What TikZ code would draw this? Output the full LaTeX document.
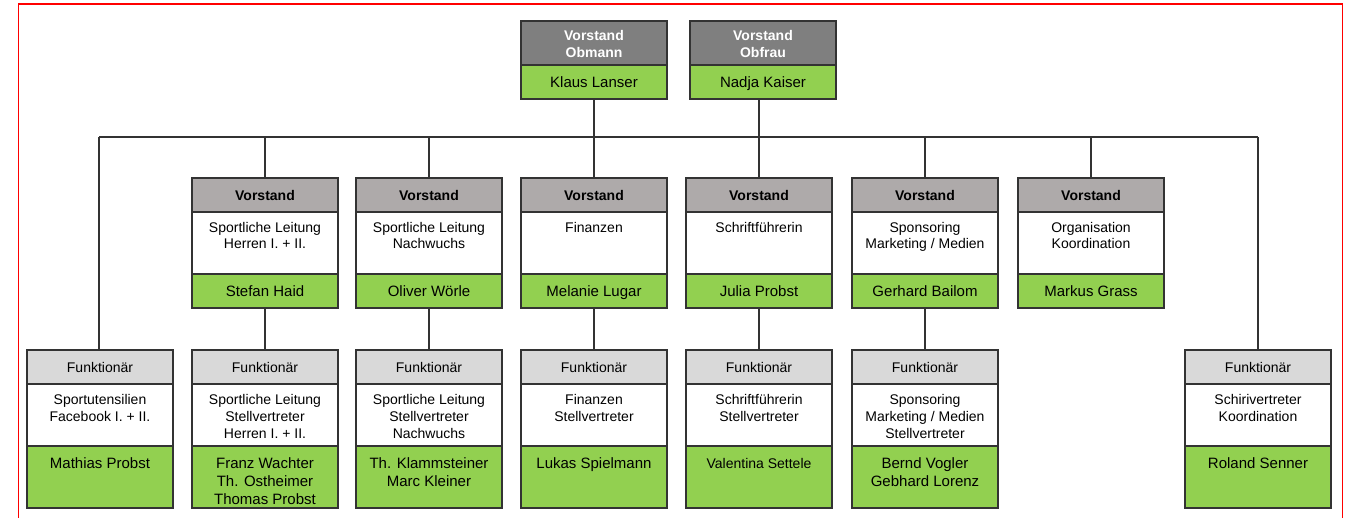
\documentclass[tikz,border=0pt]{standalone}
\usepackage{fontspec}
\setmainfont{Liberation Sans}
\definecolor{hdA}{HTML}{7F7F7F}
\definecolor{hdB}{HTML}{AEAAAA}
\definecolor{hdC}{HTML}{D9D9D9}
\definecolor{grn}{HTML}{92D050}
\definecolor{lineC}{HTML}{333333}
\definecolor{frameC}{HTML}{FF0000}
\newcommand\MidCol[4]{%
  \node[hB] (#1H) at (#2,178) {Vorstand};
  \node[wB] (#1W) at (#2,212) {};
  \node[twht] (#1Wt) at (#2,220.3) {\strut #3};
  \node[gA] (#1G) at (#2,274) {#4};
}
\newcommand\BotCol[5][\fontsize{15}{18}\selectfont]{%
  \node[hC] (#2H) at (#3,350) {Funktionär};
  \node[wB] (#2W) at (#3,384) {};
  \node[twht] (#2Wt) at (#3,392.8) {\strut #4};
  \node[gC] (#2G) at (#3,446) {};
  \node[tgrn, font=#1] (#2Gt) at (#3,455.4) {\strut #5};
}
\begin{document}
\begin{tikzpicture}[x=1pt,y=-1pt,
  sec/.style={draw=lineC, line width=1.2pt, minimum width=146pt, inner sep=0pt, outer sep=0pt, anchor=north},
  hA/.style={sec, fill=hdA, minimum height=44pt},
  gA/.style={sec, fill=grn, minimum height=34pt, font=\fontsize{15}{18}\selectfont, text height=12pt, text depth=1.2pt},
  hB/.style={sec, fill=hdB, minimum height=34pt, font=\bfseries\fontsize{14}{17}\selectfont, text height=12pt, text depth=2pt},
  wB/.style={sec, fill=white, minimum height=62pt},
  hC/.style={sec, fill=hdC, minimum height=34pt, font=\fontsize{14}{17}\selectfont, text height=12pt, text depth=2pt},
  gC/.style={sec, fill=grn, minimum height=62pt},
  ttop/.style={anchor=north, inner sep=0pt, align=center, text=white, font=\bfseries\fontsize{14}{17}\selectfont},
  twht/.style={anchor=north, inner sep=0pt, align=center, font=\fontsize{14}{16.7}\selectfont},
  tgrn/.style={anchor=north, inner sep=0pt, align=center},
  conn/.style={draw=lineC, line width=1.4pt},
  frame/.style={draw=frameC, line width=1.5pt}
]
\useasboundingbox (0,0) rectangle (1364,517);
\draw[frame] (18.3,520) -- (18.3,4) -- (1342.3,4) -- (1342.3,520);

% top
\node[hA] (obH) at (594,21) {};
\node[ttop] (obHt) at (594,28.1) {\strut Vorstand\\Obmann};
\node[gA] (obG) at (594,65) {Klaus Lanser};
\node[hA] (ofH) at (763,21) {};
\node[ttop] (ofHt) at (763,28.1) {\strut Vorstand\\Obfrau};
\node[gA] (ofG) at (763,65) {Nadja Kaiser};

% middle row
\MidCol{hh}{265}{Sportliche Leitung\\Herren I. + II.}{Stefan Haid}
\MidCol{nw}{429}{Sportliche Leitung\\Nachwuchs}{Oliver Wörle}
\MidCol{fi}{594}{Finanzen}{Melanie Lugar}
\MidCol{sf}{759}{Schriftführerin}{Julia Probst}
\MidCol{sp}{925}{Sponsoring\\Marketing / Medien}{Gerhard Bailom}
\MidCol{og}{1091}{Organisation\\Koordination}{Markus Grass}

% bottom row
\BotCol{ut}{100}{Sportutensilien\\Facebook I. + II.}{Mathias Probst}
\BotCol{hhb}{265}{Sportliche Leitung\\Stellvertreter\\Herren I. + II.}{Franz Wachter\\Th. Ostheimer\\Thomas Probst}
\BotCol{nwb}{429}{Sportliche Leitung\\Stellvertreter\\Nachwuchs}{Th. Klammsteiner\\Marc Kleiner}
\BotCol{fib}{594}{Finanzen\\Stellvertreter}{Lukas Spielmann}
\BotCol[\fontsize{14}{18}\selectfont]{sfb}{759}{Schriftführerin\\Stellvertreter}{Valentina Settele}
\BotCol{spb}{925}{Sponsoring\\Marketing / Medien\\Stellvertreter}{Bernd Vogler\\Gebhard Lorenz}
\BotCol{sr}{1258}{Schirivertreter\\Koordination}{Roland Senner}

% connectors
\coordinate (hL) at (99,137);
\coordinate (hR) at (1258,137);
\draw[conn] (hL) -- (hR);
\draw[conn] (obG.south) -- (fiH.north);
\draw[conn] (sfH.north |- ofG.south) -- (sfH.north);
\draw[conn] (hL) -- (hL |- utH.north);
\draw[conn] (hR) -- (srH.north);
\draw[conn] (hhH.north |- hL) -- (hhH.north);
\draw[conn] (nwH.north |- hL) -- (nwH.north);
\draw[conn] (spH.north |- hL) -- (spH.north);
\draw[conn] (ogH.north |- hL) -- (ogH.north);
\draw[conn] (hhG.south) -- (hhbH.north);
\draw[conn] (nwG.south) -- (nwbH.north);
\draw[conn] (fiG.south) -- (fibH.north);
\draw[conn] (sfG.south) -- (sfbH.north);
\draw[conn] (spG.south) -- (spbH.north);
\end{tikzpicture}
\end{document}
